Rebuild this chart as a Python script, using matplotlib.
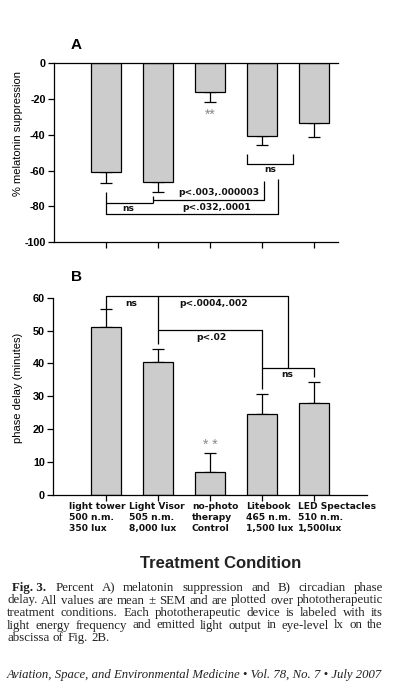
import numpy as np
import matplotlib
matplotlib.use("Agg")
import matplotlib.pyplot as plt

plt.rcParams['font.family'] = ['Liberation Sans', 'DejaVu Sans']
plt.rcParams['axes.unicode_minus'] = False

# data
conditions = ["light tower\n500 n.m.\n350 lux",
              "Light Visor\n505 n.m.\n8,000 lux",
              "no-photo\ntherapy\nControl",
              "Litebook\n465 n.m.\n1,500 lux",
              "LED Spectacles\n510 n.m.\n1,500lux"]
mel_mean = [-61.0, -66.5, -16.2, -40.8, -33.1]
mel_sem = [6.0, 5.6, 5.6, 5.0, 8.2]
phase_mean = [51.0, 40.3, 7.1, 24.5, 27.9]
phase_sem = [5.7, 4.0, 5.7, 6.1, 6.6]
mel_ticks = [-100, -80, -60, -40, -20, 0]
phase_ticks = [0, 10, 20, 30, 40, 50, 60]

caption = [
    "Percent A) melatonin suppression and B) circadian phase",
    "delay. All values are mean \u00b1 SEM and are plotted over phototherapeutic",
    "treatment conditions. Each phototherapeutic device is labeled with its",
    "light energy frequency and emitted light output in eye-level lx on the",
    "abscissa of Fig. 2B.",
]
footer = "Aviation, Space, and Environmental Medicine \u2022 Vol. 78, No. 7 \u2022 July 2007"

W, H = 395, 694
fig = plt.figure(figsize=(W / 100, H / 100), dpi=100)

def px_axes(l, t, r, b):
    return fig.add_axes([l / W, 1 - b / H, (r - l) / W, (b - t) / H])

x = np.arange(len(conditions))
bar_kw = dict(width=0.58, color="#cccccc", edgecolor="black", linewidth=0.9, zorder=2)
err_kw = dict(fmt="none", ecolor="black", elinewidth=0.9, capsize=4.5, capthick=0.9, zorder=1)
lab_kw = dict(fontsize=6.6, fontweight="bold", family="DejaVu Sans",
              ha="center", va="center", color="#111111")

def style(ax, ticks):
    ax.spines['right'].set_visible(False)
    for s in ax.spines.values():
        s.set_linewidth(0.9)
    ax.tick_params(direction="out", length=4, width=0.9, pad=2)
    ax.set_yticks(ticks)
    ax.set_yticklabels([str(t) for t in ticks], fontsize=7.8, fontweight="bold")
    ax.set_xticks(x)
    ax.set_xticklabels([])

def bracket(ax, pts):
    xs, ys = zip(*pts)
    ax.plot(xs, ys, color="black", lw=0.9, solid_capstyle="butt", zorder=3, clip_on=False)

# ---- panel A
axA = px_axes(54, 63.3, 338, 242.3)
axA.bar(x, mel_mean, **bar_kw)
axA.errorbar(x, mel_mean, yerr=[mel_sem, [0] * 5], **err_kw)
axA.set_xlim(-1.0, 4.46)
axA.set_ylim(-100, 0)
style(axA, mel_ticks)

bracket(axA, [(2.72, -50.7), (2.72, -56.4), (3.6, -56.4), (3.6, -50.7)])
bracket(axA, [(0, -72.1), (0, -84.2), (3.3, -84.2), (3.3, -64.8)])
bracket(axA, [(0, -78.2), (0.9, -78.2)])
bracket(axA, [(0.9, -74.1), (0.9, -78.2)])
bracket(axA, [(0.9, -76.5), (3.03, -76.5), (3.03, -65.7)])
axA.text(3.16, -59.3, "ns", **lab_kw)
axA.text(0.43, -81.0, "ns", **lab_kw)
axA.text(2.16, -72.3, "p<.003,.000003", **lab_kw)
axA.text(2.12, -80.4, "p<.032,.0001", **lab_kw)
axA.text(2.0, -29.0, "**", fontsize=10, color="#888888", ha="center", va="center")
fig.text(76 / W, 1 - 45 / H, "A", fontsize=11, fontweight="bold", ha="center", va="center")
fig.text(18 / W, 1 - 134 / H, "% melatonin suppression", rotation=90,
         fontsize=8, ha="center", va="center")

# ---- panel B
axB = px_axes(53.3, 297.7, 366.7, 495)
axB.bar(x, phase_mean, **bar_kw)
axB.errorbar(x, phase_mean, yerr=[[0] * 5, phase_sem], **err_kw)
axB.set_xlim(-1.01, 5.01)
axB.set_ylim(0, 60)
style(axB, phase_ticks)
axB.spines['top'].set_visible(False)

bracket(axB, [(0, 56.7), (0, 60.5), (3.49, 60.5), (3.49, 38.5)])
bracket(axB, [(1.0, 45.8), (1.0, 60.5)])
bracket(axB, [(1.0, 50.2), (3.0, 50.2), (3.0, 32.1)])
bracket(axB, [(3.0, 38.5), (4.0, 38.5), (4.0, 36.0)])
axB.text(0.49, 58.3, "ns", **lab_kw)
axB.text(2.06, 58.3, "p<.0004,.002", **lab_kw)
axB.text(2.02, 47.9, "p<.02", **lab_kw)
axB.text(3.49, 36.5, "ns", **lab_kw)
axB.text(2.0, 15.2, "* *", fontsize=10, color="#888888", ha="center", va="center")
fig.text(76 / W, 1 - 277 / H, "B", fontsize=11, fontweight="bold", ha="center", va="center")
fig.text(18 / W, 1 - 388 / H, "phase delay (minutes)", rotation=90,
         fontsize=8, ha="center", va="center")

# category labels below panel B
label_x = [69, 129, 192, 246, 298]
for lx, name in zip(label_x, conditions):
    fig.text(lx / W, 1 - 502 / H, name, fontsize=6.6, fontweight="bold",
             family="DejaVu Sans", color="#111111",
             ha="left", va="top", linespacing=1.3)

fig.text(221 / W, 1 - 563 / H, "Treatment Condition", fontsize=12,
         fontweight="bold", color="#222222", ha="center", va="center")

# caption, justified by hand
fig.canvas.draw()
renderer = fig.canvas.get_renderer()
serif = "Liberation Serif"

def width_of(s, size, **kw):
    t = fig.text(0, 0, s, fontsize=size, family=serif, **kw)
    w = t.get_window_extent(renderer).width
    t.remove()
    return w

# fit the font so the longest line just fills the column
cap_size = 10 * 372 / width_of(caption[1], 10)
cap_kw = dict(fontsize=cap_size, family=serif, va="baseline", color="#222222")

def justify(words, x0, x1, y, last=False):
    texts = [fig.text(x0 / W, y, w, **cap_kw) for w in words]
    widths = [t.get_window_extent(renderer).width for t in texts]
    gap = (x1 - x0 - sum(widths)) / max(len(words) - 1, 1)
    if last:
        gap = width_of(" ", cap_size) * 1.1
    pos = x0
    for t, w in zip(texts, widths):
        t.set_x(pos / W)
        pos += w + gap

line_y = [591, 603.5, 616, 628.5, 641]
first = fig.text(12 / W, 1 - line_y[0] / H, "Fig. 3.", fontweight="bold", **cap_kw)
fw = first.get_window_extent(renderer).width
justify(caption[0].split(), 12 + fw + 9, 383, 1 - line_y[0] / H)
for ly, line in zip(line_y[1:-1], caption[1:-1]):
    justify(line.split(), 7, 383, 1 - ly / H)
justify(caption[-1].split(), 7, 383, 1 - line_y[-1] / H, last=True)

foot_size = 10 * 375 / width_of(footer, 10, style="italic")
fig.text(7 / W, 1 - 678 / H, footer, fontsize=foot_size, family=serif,
         style="italic", color="#222222", ha="left", va="baseline")

fig.savefig("out.png", dpi=100)
